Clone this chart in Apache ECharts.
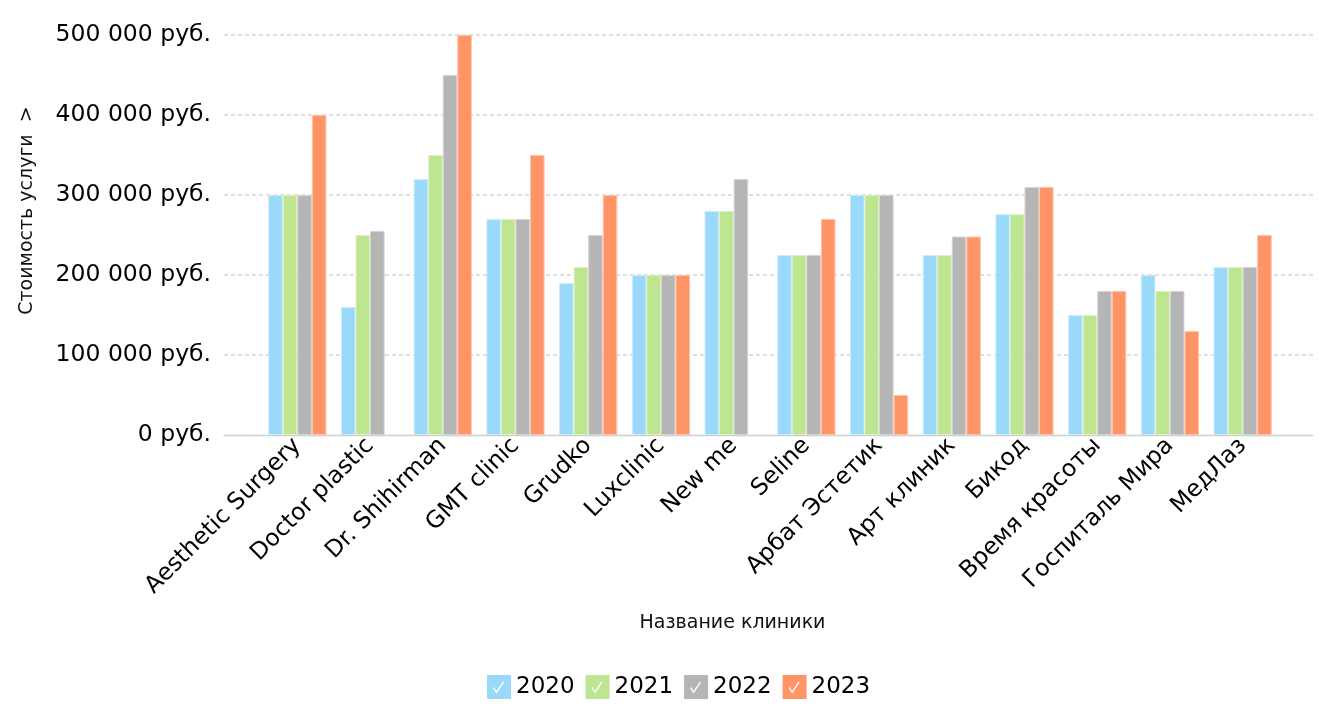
<!DOCTYPE html>
<html>
<head>
<meta charset="utf-8">
<script src="https://cdn.jsdelivr.net/npm/echarts@6/dist/echarts.min.js"></script>
<style>html,body{margin:0;padding:0;background:#fff}#c{width:1319px;height:707px}</style>
</head>
<body>
<div id="c"></div>
<script>
const categories = ['Aesthetic Surgery','Doctor plastic','Dr. Shihirman','GMT clinic','Grudko','Luxclinic','New me','Seline','Арбат Эстетик','Арт клиник','Бикод','Время красоты','Госпиталь Мира','МедЛаз'];
const years = ['2020','2021','2022','2023'];
const v2020 = [300000,160000,320000,270000,190000,200000,280000,225000,300000,225000,276000,150000,200000,210000];
const v2021 = [300000,250000,350000,270000,210000,200000,280000,225000,300000,225000,276000,150000,180000,210000];
const v2022 = [300000,255000,450000,270000,250000,200000,320000,225000,300000,248000,310000,180000,180000,210000];
const v2023 = [400000,null,500000,350000,300000,200000,null,270000,50000,248000,310000,180000,130000,250000];
const yTicks = [0,100000,200000,300000,400000,500000];

const colors = ['#9bd9fb','#bee58f','#b5b5b6','#ff9466'];
const borders = ['#c9ecfd','#dcf0c4','#d4d4d4','#ffc4a8'];
const font = 'DejaVu Sans';
const checkIcon = 'path://M0 0 H24 V24 H0 Z M9.5 18.5 L17 7.5 L16 6.5 L9.5 16 L7 12 L6 13 Z';

function rub(v){
  const s = String(Math.round(v)).replace(/\B(?=(\d{3})+(?!\d))/g,' ');
  return s + ' руб.';
}

const chart = echarts.init(document.getElementById('c'));
const allSeries = [v2020,v2021,v2022,v2023].map((d,i)=>({
  name: years[i], type:'bar', xAxisIndex:1, yAxisIndex:1,
  data: d, barGap:'0%', barCategoryGap:'20%',
  itemStyle:{color:colors[i], borderColor:borders[i], borderWidth:1},
  emphasis:{disabled:true}
}));

chart.setOption({
  animation:false,
  legend:{
    data: years.map(y=>({name:y, icon:checkIcon})),
    left:482, top:670, itemWidth:24, itemHeight:24, itemGap:11,
    itemStyle:{borderWidth:0},
    textStyle:{fontFamily:font, fontSize:23, color:'#000'}
  },
  grid:[
    {left:224, right:6, top:35, bottom:272},
    {left:261, right:40, top:35, bottom:272}
  ],
  xAxis:[
    {gridIndex:0, type:'value', min:0, max:1, axisLine:{show:true, onZero:false, lineStyle:{color:'#cfcfcf', width:1.3}},
     axisTick:{show:false}, axisLabel:{show:false}, splitLine:{show:false},
     name:'Название клиники', nameLocation:'middle', nameGap:179,
     nameTextStyle:{fontFamily:font, fontSize:19, color:'#111', padding:[0,72,0,0]}},
    {gridIndex:1, type:'category', data:categories, axisLine:{show:false}, axisTick:{show:false},
     axisLabel:{rotate:45, interval:0, margin:7, fontFamily:font, fontSize:23.5, color:'#000'}}
  ],
  yAxis:[
    {gridIndex:0, type:'value', min:0, max:500000, interval:100000,
     axisLine:{show:false}, axisTick:{show:false},
     axisLabel:{formatter:rub, margin:13, fontFamily:font, fontSize:23.5, color:'#000'},
     splitLine:{showMinLine:false, lineStyle:{color:'#d6d6d6', width:1.5, type:[4,3]}},
     name:'Стоимость услуги  >', nameLocation:'middle', nameGap:187,
     nameTextStyle:{fontFamily:font, fontSize:19, color:'#111', padding:[0,0,0,49]}},
    {gridIndex:1, type:'value', min:0, max:500000, interval:100000, show:false}
  ],
  series: allSeries
});
</script>
</body>
</html>
